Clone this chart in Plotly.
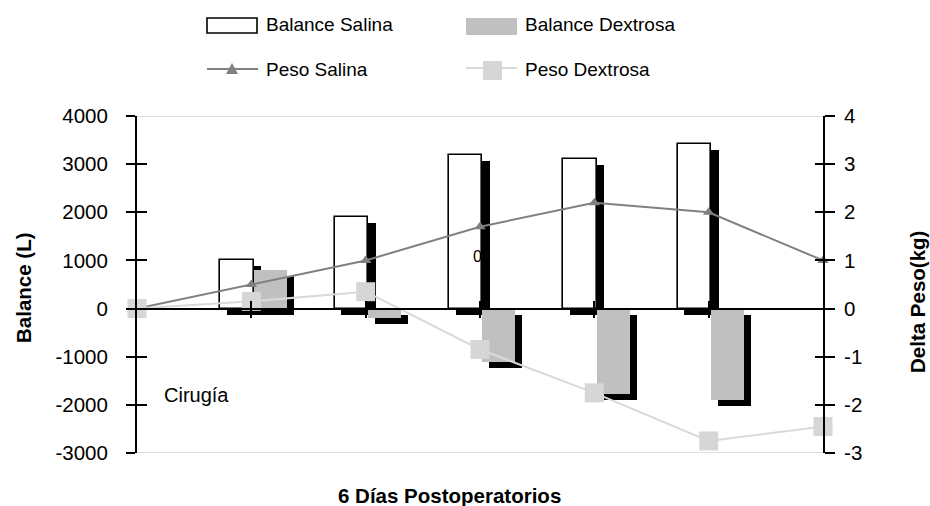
import plotly.graph_objects as go

# ---- data ----
dias = [1, 2, 3, 4, 5]
balance_salina = [1000, 1900, 3200, 3100, 3420]
balance_dextrosa = [800, -190, -1100, -1780, -1900]

dias_peso = [0, 1, 2, 3, 4, 5, 6]
peso_salina = [0, 0.5, 1.0, 1.7, 2.2, 2.0, 1.0]
peso_dextrosa = [0, 0.15, 0.35, -0.85, -1.75, -2.75, -2.45]

ticks_balance = [-3000, -2000, -1000, 0, 1000, 2000, 3000, 4000]
ticks_balance_txt = ["-3000", "-2000", "-1000", "0", "1000", "2000", "3000", "4000"]
ticks_peso = [-3, -2, -1, 0, 1, 2, 3, 4]
ticks_peso_txt = ["-3", "-2", "-1", "0", "1", "2", "3", "4"]

# ---- geometry / style ----
W, H = 930, 506
PL, PR, PT, PB = 137, 823, 116, 453          # plot area in pixels
FONT = "Liberation Sans, Arial, Helvetica, sans-serif"
GRIS_BARRA = "#c0c0c0"
GRIS_LINEA = "#808080"
GRIS_CLARO = "#d6d6d6"

X_RANGE = [0, 6]
Y_RANGE = [-3000, 4000]
Y2_RANGE = [-3, 4]

px_per_x = (PR - PL) / (X_RANGE[1] - X_RANGE[0])
px_per_y = (PB - PT) / (Y_RANGE[1] - Y_RANGE[0])

BAR_W = 0.29
OFF_SAL = -0.125
OFF_DEX = 0.165
SOMBRA_DX = 7 / px_per_x
SOMBRA_DY = 6 / px_per_y


def px_x(px):
    return (px - PL) / (PR - PL)


def px_y(py):
    return (PB - py) / (PB - PT)


fig = go.Figure()

# drop shadows (drawn first so the bars sit on top)
fig.add_trace(go.Bar(
    x=[d + OFF_SAL + SOMBRA_DX for d in dias], y=balance_salina,
    base=[-SOMBRA_DY] * len(dias), width=BAR_W + 0.01,
    marker=dict(color="black", line=dict(width=0)),
    showlegend=False, hoverinfo="skip"))
fig.add_trace(go.Bar(
    x=[d + OFF_DEX + SOMBRA_DX for d in dias], y=balance_dextrosa,
    base=[-SOMBRA_DY] * len(dias), width=BAR_W,
    marker=dict(color="black", line=dict(width=0)),
    showlegend=False, hoverinfo="skip"))

# main bars
fig.add_trace(go.Bar(
    name="Balance Salina",
    x=[d + OFF_SAL for d in dias], y=balance_salina, width=BAR_W,
    marker=dict(color="white", line=dict(color="black", width=1.6)),
    showlegend=False))
fig.add_trace(go.Bar(
    name="Balance Dextrosa",
    x=[d + OFF_DEX for d in dias], y=balance_dextrosa, width=BAR_W,
    marker=dict(color=GRIS_BARRA, line=dict(width=0)),
    showlegend=False))

# weight lines on the secondary axis
fig.add_trace(go.Scatter(
    name="Peso Salina", x=dias_peso, y=peso_salina, yaxis="y2",
    mode="lines+markers", cliponaxis=False,
    line=dict(color=GRIS_LINEA, width=2),
    marker=dict(symbol="triangle-up", size=10, color=GRIS_LINEA),
    showlegend=False))
fig.add_trace(go.Scatter(
    name="Peso Dextrosa", x=dias_peso, y=peso_dextrosa, yaxis="y2",
    mode="lines+markers", cliponaxis=False,
    line=dict(color="#d9d9d9", width=2),
    marker=dict(symbol="square", size=19, color=GRIS_CLARO),
    showlegend=False))

# empty helpers so the inner-tick overlay axes are rendered
for xa, ya in (("x", "y3"), ("x", "y4"), ("x2", "y")):
    fig.add_trace(go.Scatter(x=[None], y=[None], xaxis=xa, yaxis=ya,
                             mode="markers", showlegend=False, hoverinfo="skip"))

tick_font = dict(family=FONT, size=20.5, color="black")
pos_cero = (0 - Y_RANGE[0]) / (Y_RANGE[1] - Y_RANGE[0])

fig.update_layout(
    width=W, height=H,
    margin=dict(l=PL, r=W - PR, t=PT, b=H - PB, pad=0),
    paper_bgcolor="white", plot_bgcolor="white",
    barmode="overlay", bargap=0,
    font=dict(family=FONT, color="black"),
    xaxis=dict(range=X_RANGE, anchor="free", position=pos_cero,
               showline=True, linecolor="black", linewidth=2,
               tickvals=dias, ticks="outside", ticklen=8, tickwidth=2,
               tickcolor="black", showticklabels=False,
               showgrid=False, zeroline=False),
    xaxis2=dict(range=X_RANGE, overlaying="x", anchor="free", position=pos_cero,
                showline=False, tickvals=dias, ticks="inside", ticklen=8,
                tickwidth=2, tickcolor="black", showticklabels=False,
                showgrid=False, zeroline=False),
    yaxis=dict(range=Y_RANGE, tickvals=ticks_balance, ticktext=ticks_balance_txt,
               showline=True, linecolor="black", linewidth=2,
               ticks="outside", ticklen=9, tickwidth=2, tickcolor="black",
               ticklabelstandoff=14, tickfont=tick_font,
               showgrid=False, zeroline=False),
    yaxis2=dict(range=Y2_RANGE, overlaying="y", side="right", anchor="x",
                tickvals=ticks_peso, ticktext=ticks_peso_txt,
                showline=True, linecolor="black", linewidth=2,
                ticks="outside", ticklen=10, tickwidth=2, tickcolor="black",
                ticklabelstandoff=5, tickfont=tick_font,
                showgrid=False, zeroline=False),
    yaxis3=dict(range=Y_RANGE, overlaying="y", side="left", anchor="x",
                tickvals=ticks_balance, ticks="inside", ticklen=10, tickwidth=2,
                tickcolor="black", showticklabels=False, showline=False,
                showgrid=False, zeroline=False),
    yaxis4=dict(range=Y2_RANGE, overlaying="y", side="right", anchor="x",
                tickvals=ticks_peso, ticks="inside", ticklen=8, tickwidth=2,
                tickcolor="black", showticklabels=False, showline=False,
                showgrid=False, zeroline=False),
)

# light frame lines at the top and bottom of the value range
for yv in (Y_RANGE[1], Y_RANGE[0]):
    fig.add_shape(type="line", xref="paper", yref="y", x0=0, x1=1, y0=yv, y1=yv,
                  line=dict(color="#d4d4d4", width=1.5), layer="below")

# ---- legend (drawn by hand: wide swatches in two rows) ----
leg_font = dict(family=FONT, size=19, color="black")
fig.add_shape(type="rect", xref="paper", yref="paper",
              x0=px_x(207), x1=px_x(257), y0=px_y(33), y1=px_y(18),
              fillcolor="white", line=dict(color="black", width=1.6))
fig.add_shape(type="rect", xref="paper", yref="paper",
              x0=px_x(466), x1=px_x(517), y0=px_y(35), y1=px_y(18),
              fillcolor=GRIS_BARRA, line=dict(width=0))
fig.add_shape(type="line", xref="paper", yref="paper",
              x0=px_x(207), x1=px_x(258), y0=px_y(69), y1=px_y(69),
              line=dict(color=GRIS_LINEA, width=2))
fig.add_shape(type="path", xref="paper", yref="paper",
              path=(f"M {px_x(226)},{px_y(74)} L {px_x(238)},{px_y(74)} "
                    f"L {px_x(232)},{px_y(63)} Z"),
              fillcolor=GRIS_LINEA, line=dict(width=0))
fig.add_shape(type="line", xref="paper", yref="paper",
              x0=px_x(466), x1=px_x(517), y0=px_y(68), y1=px_y(68),
              line=dict(color="#d9d9d9", width=2))
fig.add_shape(type="rect", xref="paper", yref="paper",
              x0=px_x(483), x1=px_x(502), y0=px_y(80), y1=px_y(61),
              fillcolor=GRIS_CLARO, line=dict(width=0))

for txt, xp, yp in (("Balance Salina", 264, 25), ("Balance Dextrosa", 523, 25),
                    ("Peso Salina", 264, 70), ("Peso Dextrosa", 523, 70)):
    fig.add_annotation(text=txt, xref="paper", yref="paper",
                       x=px_x(xp), y=px_y(yp), xanchor="left", yanchor="middle",
                       showarrow=False, font=leg_font)

# ---- axis titles and notes ----
titulo_font = dict(family=FONT, size=20.5, color="black", weight="bold")
fig.add_annotation(text="Balance (L)", xref="paper", yref="paper",
                   x=px_x(23), y=px_y(288), textangle=-90,
                   xanchor="center", yanchor="middle", showarrow=False,
                   font=titulo_font)
fig.add_annotation(text="Delta Peso(kg)", xref="paper", yref="paper",
                   x=px_x(917), y=px_y(302), textangle=-90,
                   xanchor="center", yanchor="middle", showarrow=False,
                   font=titulo_font)
fig.add_annotation(text="6 Días Postoperatorios", xref="paper", yref="paper",
                   x=px_x(449), y=px_y(495), xanchor="center", yanchor="middle",
                   showarrow=False, font=titulo_font)
fig.add_annotation(text="Cirugía", xref="x", yref="y", x=0.52, y=-1800,
                   xanchor="center", yanchor="middle", showarrow=False,
                   font=dict(family=FONT, size=20, color="black"))
fig.add_annotation(text="0", xref="x", yref="y", x=2.98, y=1080,
                   xanchor="center", yanchor="middle", showarrow=False,
                   font=dict(family=FONT, size=16, color="black"))

fig.write_html("out.html")
